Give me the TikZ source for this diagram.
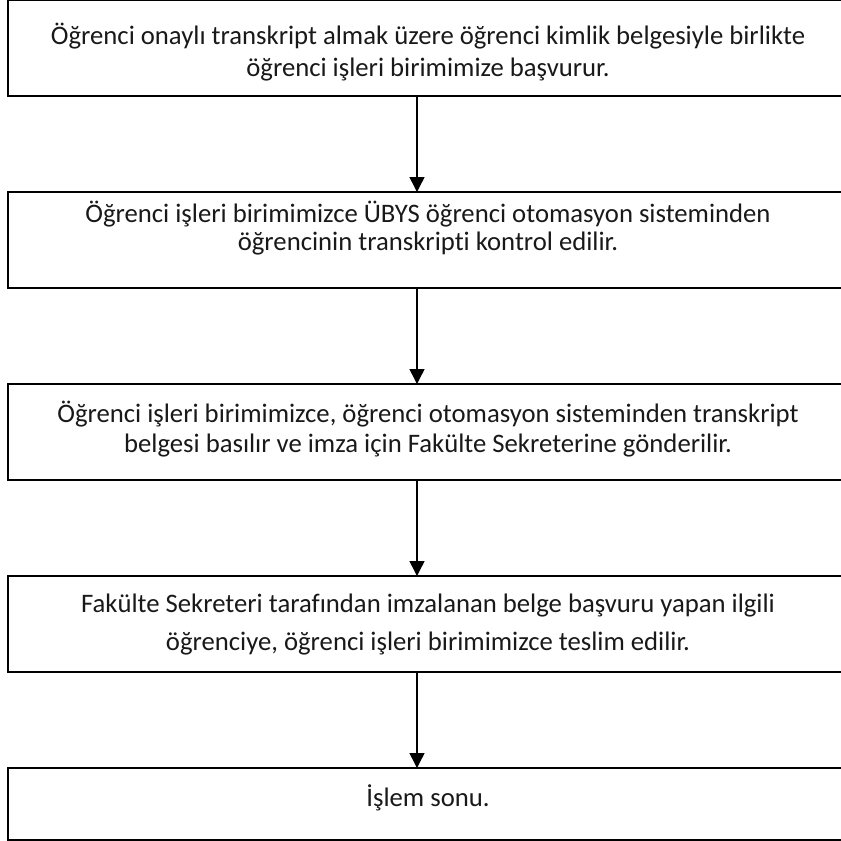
\documentclass[tikz,border=0pt]{standalone}
\usepackage{fontspec}
\setmainfont[Ligatures={NoCommon}]{Carlito}
\usetikzlibrary{arrows.meta}
\tikzset{
  box/.style={draw=black, line width=2pt, minimum width=839pt, inner sep=0pt, outer sep=0pt},
  txt/.style={anchor=base, inner sep=0pt, font=\fontsize{26.7}{32}\selectfont, text=black!90},
  flow/.style={draw=black, line width=1.5pt, -{Triangle[length=15pt,width=15pt]}}
}
\begin{document}
\begin{tikzpicture}[x=1pt, y=-1pt]
\useasboundingbox (0,0) rectangle (841,841);
\clip (0,0) rectangle (841,841);
\fill[white] (0,0) rectangle (841,841);
\coordinate (ax) at (417,0);
% boxes
\node[box, minimum height=96pt] (b1) at (427.5,48) {};
\node[box, minimum height=96pt] (b2) at (427.5,240) {};
\node[box, minimum height=96pt] (b3) at (427.5,432) {};
\node[box, minimum height=96pt] (b4) at (427.5,624) {};
\node[box, minimum height=71.5pt] (b5) at (427.5,803.75) {};
% texts
\node[txt] (t1a) at (428,44) {Öğrenci onaylı transkript almak üzere öğrenci kimlik belgesiyle birlikte};
\node[txt] (t1b) at (428,76) {öğrenci işleri birimimize başvurur.};
\node[txt] (t2a) at (428,222) {Öğrenci işleri birimimizce ÜBYS öğrenci otomasyon sisteminden};
\node[txt] (t2b) at (428,250) {öğrencinin transkripti kontrol edilir.};
\node[txt] (t3a) at (428,422) {Öğrenci işleri birimimizce, öğrenci otomasyon sisteminden transkript};
\node[txt] (t3b) at (428,452) {belgesi basılır ve imza için Fakülte Sekreterine gönderilir.};
\node[txt] (t4a) at (428,612) {Fakülte Sekreteri tarafından imzalanan belge başvuru yapan ilgili};
\node[txt] (t4b) at (428,650) {öğrenciye, öğrenci işleri birimimizce teslim edilir.};
\node[txt] (t5) at (428,806) {İşlem sonu.};
% connectors
\draw[flow] (b1.south -| ax) -- (b2.north -| ax);
\draw[flow] (b2.south -| ax) -- (b3.north -| ax);
\draw[flow] (b3.south -| ax) -- (b4.north -| ax);
\draw[flow] (b4.south -| ax) -- (b5.north -| ax);
\end{tikzpicture}
\end{document}
